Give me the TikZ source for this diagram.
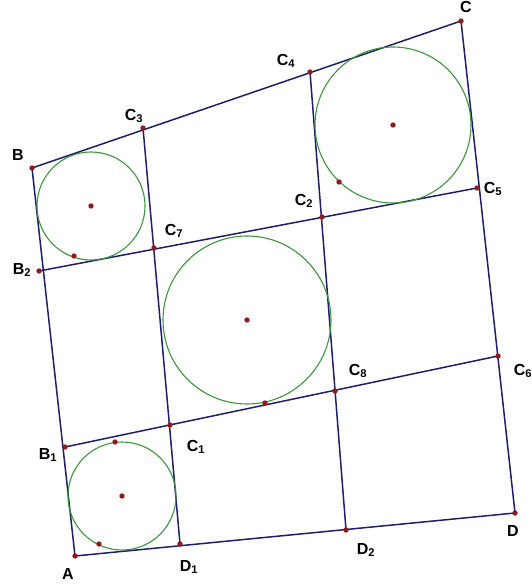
\documentclass[tikz,border=0pt]{standalone}
\usepackage{fontspec}
\setmainfont{Liberation Sans}
\usepackage{tikz}
\usetikzlibrary{calc}

\definecolor{linecol}{HTML}{1E1E6E}
\definecolor{circcol}{HTML}{3C963C}
\definecolor{dotcol}{HTML}{8E1C1C}

\begin{document}
\begin{tikzpicture}[x=1pt, y=-1pt, font=\fontsize{16}{16}\selectfont\bfseries,
		seg/.style={linecol, line width=1.5pt},
		circ/.style={circcol, line width=1.1pt},
		lbl/.style={inner sep=0pt}]
		\useasboundingbox (0,0) rectangle (531,585);
		% corners of the quadrilateral
		\coordinate (A) at (75,556);
		\coordinate (B) at (32,168);
		\coordinate (C) at (461,21);
		\coordinate (D) at (515,513);
		% points on the sides
		\coordinate (B1) at (65,447);
		\coordinate (B2) at (39,271);
		\coordinate (C3) at (143,128);
		\coordinate (C4) at (310,72);
		\coordinate (C5) at (477,188);
		\coordinate (C6) at (498,356);
		\coordinate (D1) at (180,544);
		\coordinate (D2) at (346,530);
		% crossings inside
		\coordinate (C1) at (170,425);
		\coordinate (C2) at (322,217);
		\coordinate (C7) at (154,248);
		\coordinate (C8) at (335,391);
		% quadrilateral and dividing lines
		\draw[seg] (A) -- (B) -- (C) -- (D) -- cycle;
		\draw[seg] (B1) -- (C6);
		\draw[seg] (B2) -- (C5);
		\draw[seg] (C3) -- (D1);
		\draw[seg] (C4) -- (D2);
		% inscribed circles with centres and points on them
		\coordinate (O1) at (122,496);
		\coordinate (O2) at (91,206);
		\coordinate (O3) at (247,320);
		\coordinate (O4) at (393,125);
		\draw[circ] (O1) circle (54pt);
		\draw[circ] (O2) circle (54pt);
		\draw[circ] (O3) circle (84pt);
		\draw[circ] (O4) circle (78pt);
		\coordinate (P1) at (115,442);
		\coordinate (P2) at (99,544);
		\coordinate (P3) at (74,256);
		\coordinate (P4) at (265,403);
		\coordinate (P5) at (339,182);
		\foreach \p in {A,B,C,D,B1,B2,C1,C2,C3,C4,C5,C6,C7,C8,D1,D2,O1,O2,O3,O4,P1,P2,P3,P4,P5}
			\fill[dotcol] (\p) circle (2.7pt);
		% labels
		\node[lbl] (lA) at (68,574) {A};
		\node[lbl] (lB) at (18,155) {B};
		\node[lbl] (lC) at (466,7) {C};
		\node[lbl] (lD) at (513,531) {D};
		\node[lbl] (lB1) at (48,455) {B\textsubscript{1}};
		\node[lbl] (lB2) at (22,270) {B\textsubscript{2}};
		\node[lbl] (lC1) at (196,447) {C\textsubscript{1}};
		\node[lbl] (lC2) at (304,201) {C\textsubscript{2}};
		\node[lbl] (lC3) at (134,116) {C\textsubscript{3}};
		\node[lbl] (lC4) at (286,61) {C\textsubscript{4}};
		\node[lbl] (lC5) at (493,189) {C\textsubscript{5}};
		\node[lbl] (lC6) at (523,371) {C\textsubscript{6}};
		\node[lbl] (lC7) at (174,231) {C\textsubscript{7}};
		\node[lbl] (lC8) at (358,371) {C\textsubscript{8}};
		\node[lbl] (lD1) at (189,567) {D\textsubscript{1}};
		\node[lbl] (lD2) at (366,550) {D\textsubscript{2}};
	\end{tikzpicture}
\end{document}
